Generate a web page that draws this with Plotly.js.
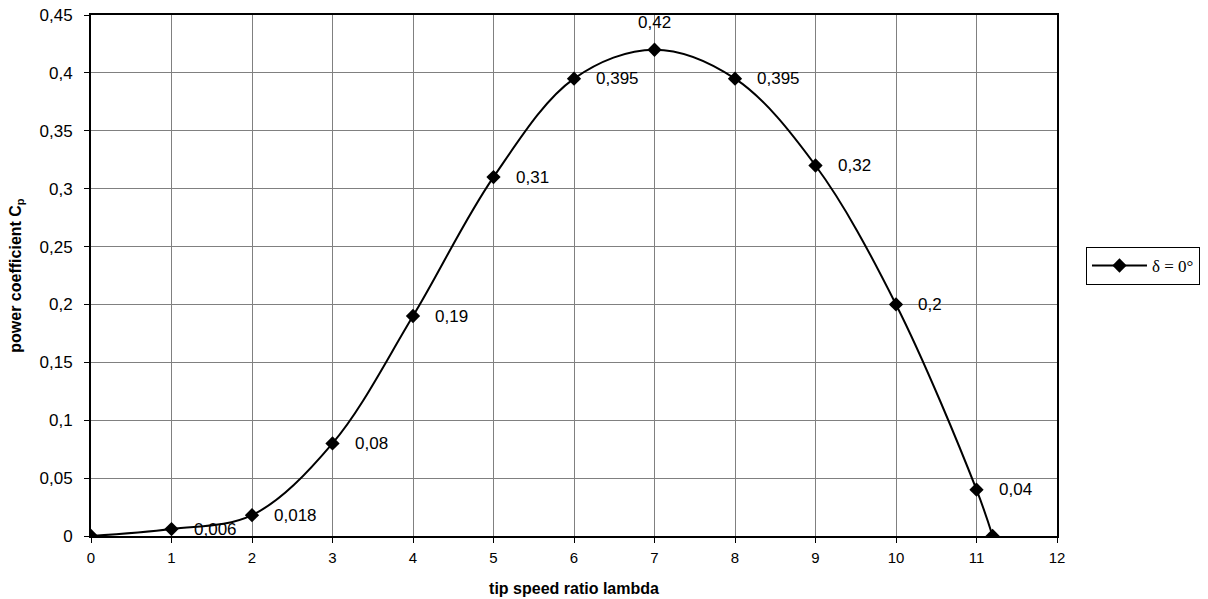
<!DOCTYPE html>
<html>
<head>
<meta charset="utf-8">
<script src="https://cdn.plot.ly/plotly-3.0.1.min.js"></script>
<style>html,body{margin:0;padding:0;background:#fff;}#chart{width:1208px;height:599px;}</style>
</head>
<body>
<div id="chart"></div>
<script>
const lambda = [0, 1, 2, 3, 4, 5, 6, 7, 8, 9, 10, 11, 11.2];
const cp = [0, 0.006, 0.018, 0.08, 0.19, 0.31, 0.395, 0.42, 0.395, 0.32, 0.2, 0.04, 0];
const labelIdx = [1, 2, 3, 4, 5, 6, 7, 8, 9, 10, 11];
const seriesName = 'δ = 0°';
const xTitle = 'tip speed ratio lambda';
const yTitle = 'power coefficient C<sub>p</sub>';

const fmt = v => String(v).replace('.', ',');

const annotations = labelIdx.map(i => {
  const top = cp[i] === Math.max(...cp);
  return {
    x: lambda[i], y: cp[i], xref: 'x', yref: 'y',
    text: fmt(cp[i]), showarrow: false,
    xanchor: top ? 'center' : 'left',
    yanchor: 'middle',
    xshift: top ? 0 : 20,
    yshift: top ? 27 : 0,
    font: {family: 'Liberation Sans, Arial, sans-serif', size: 17, color: '#000'}
  };
});

const trace = {
  x: lambda, y: cp, name: seriesName, type: 'scatter', mode: 'lines+markers',
  line: {color: '#000', width: 2, shape: 'spline', smoothing: 1},
  marker: {symbol: 'diamond', size: 11, color: '#000'}
};

const layout = {
  width: 1208, height: 599,
  margin: {l: 91, r: 151, t: 15, b: 63, autoexpand: false},
  paper_bgcolor: '#fff', plot_bgcolor: '#fff',
  separators: ', ',
  showlegend: true,
  font: {family: 'Liberation Sans, Arial, sans-serif', color: '#000'},
  xaxis: {
    range: [0, 12], dtick: 1, tick0: 0,
    showgrid: true, gridcolor: '#808080', gridwidth: 1,
    zeroline: false, showline: true, linecolor: '#000', linewidth: 2, mirror: true,
    ticks: 'outside', ticklen: 5, tickcolor: '#000',
    tickfont: {size: 15}, ticklabelstandoff: 2,
    title: {text: '<b>' + xTitle + '</b>', font: {size: 16}, standoff: 18}
  },
  yaxis: {
    range: [0, 0.45], dtick: 0.05, tick0: 0,
    showgrid: true, gridcolor: '#808080', gridwidth: 1,
    zeroline: false, showline: true, linecolor: '#000', linewidth: 2, mirror: true,
    ticks: 'outside', ticklen: 5, tickcolor: '#000',
    tickfont: {size: 17}, ticklabelstandoff: 8,
    title: {text: '<b>' + yTitle + '</b>', font: {size: 16}, standoff: 14}
  },
  legend: {
    xref: 'container', yref: 'container',
    x: 0.899, y: 0.556, xanchor: 'left', yanchor: 'middle',
    bordercolor: '#000', borderwidth: 1, bgcolor: '#fff',
    itemwidth: 55,
    font: {family: 'Liberation Serif, Times New Roman, serif', size: 17}
  },
  annotations: annotations
};

Plotly.newPlot('chart', [trace], layout, {displayModeBar: false, staticPlot: true});
</script>
</body>
</html>
